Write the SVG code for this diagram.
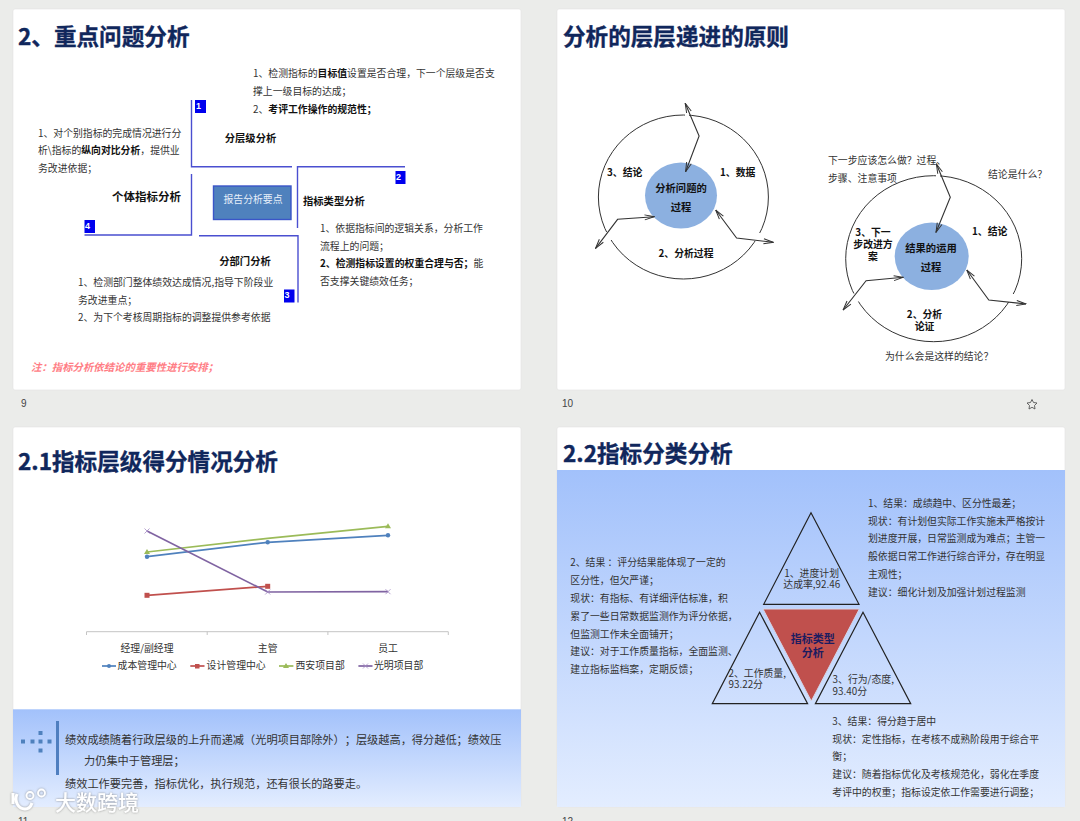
<svg xmlns="http://www.w3.org/2000/svg" width="1080" height="821" viewBox="0 0 1080 821">
<style>
text{font-family:"Noto Sans CJK SC","Liberation Sans",sans-serif;dominant-baseline:central;fill:#333;font-size:9.85px;text-spacing-trim:space-all;transform:translateY(-.6px)}
.title{font-size:22.6px;font-weight:700;fill:#10275c;stroke:#10275c;stroke-width:.35}
.b{font-weight:700;fill:#111}
.h{font-weight:700;fill:#111;font-size:10.3px}
.m{text-anchor:middle}
.w{font-size:11.2px}
.ln{fill:none;stroke:#4a4fd0;stroke-width:1.4}
.sq{fill:#0000ee}
.n{fill:#fff;font-size:9px;font-weight:700;font-family:"Liberation Sans",sans-serif}
.slide{fill:#fff;stroke:#e2e2e2;stroke-width:.6}
.ring{fill:none;stroke:#333;stroke-width:1}
.gap{fill:none;stroke:#fff;stroke-width:8}
.ar{fill:none;stroke:#333;stroke-width:1.1;marker-start:url(#v);marker-end:url(#v)}
.core{fill:#8cb0e0}
.tri{fill:none;stroke:#222;stroke-width:1.2}
.pg{font-size:10px;font-family:"Liberation Sans",sans-serif;fill:#444}
.dot{fill:#4f81bd}
.s1{fill:none;stroke:#4f81bd;stroke-width:1.7}
.s2{fill:none;stroke:#c0504d;stroke-width:1.7}
.s3{fill:none;stroke:#9bbb59;stroke-width:1.7}
.s4{fill:none;stroke:#8064a2;stroke-width:1.7}
</style>
<defs>
<linearGradient id="g" x1="0" y1="0" x2="0" y2="1"><stop offset="0" stop-color="#a2c1fb"/><stop offset="1" stop-color="#e3edff"/></linearGradient>
<marker id="v" viewBox="0 0 12 8" refX="11.500" refY="4" markerWidth="12" markerHeight="8" orient="auto-start-reverse" markerUnits="userSpaceOnUse"><path d="M2 1.500L11.500 4L2 6.500" fill="none" stroke="#333" stroke-width="1"/></marker>
<filter id="sh" x="-10%" y="-20%" width="120%" height="140%"><feDropShadow dx="0" dy="0" stdDeviation="1" flood-color="#777" flood-opacity=".8"/></filter>
</defs>
<rect width="1080" height="821" fill="#ebecea"/>

<rect class="slide" x="13" y="9" width="508" height="381" rx="2"/>
<rect class="slide" x="557" y="9" width="508" height="381" rx="2"/>
<rect class="slide" x="13" y="427" width="508" height="380" rx="2"/>
<rect class="slide" x="557" y="427" width="508" height="380" rx="2"/>

<g id="slide9">
<text class="title" x="18" y="36">2、重点问题分析</text>
<g id="connectors9">
<path class="ln" d="M191.500 100V166.700H292"/>
<path class="ln" d="M297.500 228V166.700H405"/>
<path class="ln" d="M199 235.700H298V302.500"/>
<path class="ln" d="M191.500 174V235H84.500"/>
</g>
<g id="center"><rect x="213.500" y="186" width="77.500" height="33.500" fill="#4f81bd" stroke="#3a55c8" stroke-width="1.400"/><text class="m" x="253" y="199.500" style="fill:#e8f0fa">报告分析要点</text></g>
<g id="n1"><rect class="sq" x="195" y="100" width="11" height="13"/><text class="n" x="196" y="106.500">1</text>
<text class="h m" x="250.500" y="138">分层级分析</text>
<text x="253" y="73.300">1、检测指标的<tspan class="b">目标值</tspan>设置是否合理，下一个层级是否支</text>
<text x="253" y="92">撑上一级目标的达成；</text>
<text x="253" y="109.500">2、<tspan class="b">考评工作操作的规范性；</tspan></text></g>
<g id="n2"><rect class="sq" x="395.500" y="171" width="10" height="13"/><text class="n" x="396" y="177.500">2</text>
<text class="h" x="303" y="201">指标类型分析</text>
<text x="320" y="229">1、依据指标间的逻辑关系，分析工作</text>
<text x="320" y="246.500">流程上的问题；</text>
<text x="320" y="264"><tspan class="b">2、检测指标设置的权重合理与否；</tspan>能</text>
<text x="320" y="281.500">否支撑关键绩效任务；</text></g>
<g id="n3"><rect class="sq" x="284" y="289.500" width="10.500" height="13"/><text class="n" x="284.500" y="296">3</text>
<text class="h m" x="245" y="261">分部门分析</text>
<text x="78" y="282.500">1、检测部门整体绩效达成情况,指导下阶段业</text>
<text x="78" y="300.500">务改进重点；</text>
<text x="78" y="318">2、为下个考核周期指标的调整提供参考依据</text></g>
<g id="n4"><rect class="sq" x="84.500" y="220" width="10.500" height="13"/><text class="n" x="85" y="226.500">4</text>
<text class="b" style="font-size:11.500px" x="112" y="197">个体指标分析</text>
<text x="38" y="133.500">1、对个别指标的完成情况进行分</text>
<text x="38" y="151">析\指标的<tspan class="b">纵向对比分析</tspan>，提供业</text>
<text x="38" y="169">务改进依据；</text></g>
<text x="31" y="367" style="fill:#ff7d85;font-weight:700;font-style:italic;font-size:10.400px">注：指标分析依结论的重要性进行安排；</text>
<text class="pg" x="21" y="404">9</text>
</g>

<g id="slide10">
<text class="title" x="563" y="36">分析的层层递进的原则</text>
<g id="cycle1">
<ellipse class="ring" cx="683.400" cy="197" rx="85" ry="82"/>
<ellipse class="core" cx="681" cy="195.500" rx="36" ry="33"/>
<g id="connectors10a">
<path class="gap" d="M752 237H764M603 236H615"/>
<path class="gap" style="stroke-width:4" d="M687 112V119"/>
<path class="ar" d="M685.200 103.300L699.100 136L685.600 171.700"/>
<path class="ar" d="M773.100 242.300L736.600 238L715.700 210"/>
<path class="ar" d="M595.600 248.300L617.600 219.300L654.100 216.700"/>
</g>
<text class="h m" x="681" y="188">分析问题的</text><text class="h m" x="681" y="207">过程</text>
<text class="b" x="607" y="173">3、结论</text><text class="b" x="720" y="173">1、数据</text><text class="b m" x="686" y="254">2、分析过程</text>
</g>
<g id="cycle2">
<ellipse class="ring" cx="933.700" cy="258.700" rx="88" ry="83"/>
<ellipse class="core" cx="931.700" cy="256.300" rx="37" ry="33.700"/>
<g id="connectors10b">
<path class="gap" d="M1004 298H1017M850 297.500H862"/>
<path class="gap" style="stroke-width:4" d="M938 173V180"/>
<path class="ar" d="M936.400 164L950.300 197.300L936 232.300"/>
<path class="ar" d="M1026 304L988.800 300L966.800 270"/>
<path class="ar" d="M843.100 310L866.100 280.700L903.300 277.300"/>
</g>
<text class="h m" x="931" y="248">结果的运用</text><text class="h m" x="931" y="267">过程</text>
<text class="b" x="972" y="232">1、结论</text>
<text class="b m" x="873" y="233">3、下一</text><text class="b m" x="873" y="245">步改进方</text><text class="b m" x="873" y="257">案</text>
<text class="b m" x="924.500" y="315">2、分析</text><text class="b m" x="924.500" y="327">论证</text>
<text x="828" y="161">下一步应该怎么做？过程、</text><text x="828" y="179">步骤、注意事项</text>
<text x="988" y="175">结论是什么？</text><text x="885" y="357">为什么会是这样的结论？</text>
</g>
<text class="pg" x="562" y="404">10</text>
<path d="M1032 399.500L1033.500 402.500L1037 403L1034.500 405.500L1035 409L1032 407.300L1029 409L1029.500 405.500L1027 403L1030.500 402.500Z" fill="none" stroke="#555" stroke-width=".9"/>
</g>

<g id="slide11">
<text class="title" x="18" y="461">2.1指标层级得分情况分析</text>
<g id="chart">
<path d="M86.500 635V631.700H448.300V635M207.200 631.700V635M327.900 631.700V635" fill="none" stroke="#c4c4c4" stroke-width="1"/>
<path class="s3" d="M147 552L267.700 538.300L388 526.300"/>
<path class="s1" d="M147 556.700L267.700 542.300L388 535.300"/>
<path class="s2" d="M147 595.300L267.700 586.300"/>
<path class="s4" d="M147 531L267.700 592L388 591.700"/>
<g fill="#4f81bd"><circle cx="147" cy="556.700" r="2.200"/><circle cx="267.700" cy="542.300" r="2.200"/><circle cx="388" cy="535.300" r="2.200"/></g>
<g fill="#c0504d"><rect x="144.500" y="592.800" width="5" height="5"/><rect x="265.200" y="583.800" width="5" height="5"/></g>
<g fill="#9bbb59"><path d="M147 549L150 554H144Z"/><path d="M388 523.300L391 528.300H385Z"/></g>
<g fill="none" stroke="#a48cc4" stroke-width=".8"><path d="M144.500 528.500L149.500 533.500M149.500 528.500L144.500 533.500M265.200 589.500L270.200 594.500M270.200 589.500L265.200 594.500M385.500 589.200L390.500 594.200M390.500 589.200L385.500 594.200"/></g>
<text class="m" x="147" y="648.300">经理/副经理</text><text class="m" x="267.700" y="648.300">主管</text><text class="m" x="388" y="648.300">员工</text>
<path class="s1" d="M102 666H116"/><circle class="dot" cx="109" cy="666" r="2"/><text x="117.600" y="666">成本管理中心</text>
<path class="s2" d="M190.300 666H204.500"/><rect x="195" y="664" width="4.500" height="4.500" fill="#c0504d"/><text x="206.600" y="666">设计管理中心</text>
<path class="s3" d="M279 666H293.400"/><path d="M286 663L289 668H283Z" fill="#9bbb59"/><text x="295.500" y="666">西安项目部</text>
<path class="s4" d="M358.400 666H372.500"/><path d="M363 663.500L368 668.500M368 663.500L363 668.500" stroke="#a48cc4" stroke-width=".8"/><text x="374" y="666">光明项目部</text>
</g>
<rect x="13" y="709.300" width="508" height="97.700" fill="url(#g)"/>
<rect x="56" y="721" width="3" height="54" fill="#4f7fc0"/>
<g class="dot"><rect x="21" y="739.500" width="4" height="4"/><rect x="30.500" y="739.500" width="4" height="4"/><rect x="38.500" y="739.500" width="4" height="4"/><rect x="47.500" y="739.500" width="4" height="4"/><rect x="38.500" y="731" width="4" height="4"/><rect x="38.500" y="748.500" width="4" height="4"/></g>
<text class="w" x="65" y="740">绩效成绩随着行政层级的上升而递减（光明项目部除外）；层级越高，得分越低；绩效压</text>
<text class="w" x="84" y="761">力仍集中于管理层；</text>
<text class="w" x="65" y="784">绩效工作要完善，指标优化，执行规范，还有很长的路要走。</text>
<text class="pg" x="18" y="822">11</text>
</g>

<g id="slide12">
<rect x="557" y="470" width="508" height="337" fill="url(#g)"/>
<text class="title" x="563" y="453">2.2指标分类分析</text>
<g id="n-top"><path class="tri" d="M811 512.700L763.700 604.300H859Z"/><text x="784.300" y="573.700">1、进度计划</text><text x="783.300" y="584.700">达成率,92.46</text></g>
<g id="n-center"><path d="M763 609H859.300L811.300 701Z" fill="#c0504d" stroke="#d5d5e5" stroke-width="1"/><text class="m" x="812.700" y="638.700" style="font-size:11px;font-weight:700;fill:#1c1c60">指标类型</text><text class="m" x="812.700" y="652.300" style="font-size:11px;font-weight:700;fill:#1c1c60">分析</text></g>
<g id="n-left"><path class="tri" d="M759.600 612.300L712.300 703.700H807.600Z"/><text x="728.500" y="673.300">2、工作质量,</text><text x="728.500" y="685">93.22分</text></g>
<g id="n-right"><path class="tri" d="M863 612.300L815.400 703.700H910.700Z"/><text x="832.600" y="679.300">3、行为/态度,</text><text x="832.600" y="691.300">93.40分</text></g>
<g id="t-right">
<text x="868" y="504">1、结果：成绩趋中、区分性最差；</text>
<text x="868" y="521.300">现状：有计划但实际工作实施未严格按计</text>
<text x="868" y="539">划进度开展，日常监测成为难点；主管一</text>
<text x="868" y="557">般依据日常工作进行综合评分，存在明显</text>
<text x="868" y="574.700">主观性；</text>
<text x="868" y="592.300">建议：细化计划及加强计划过程监测</text></g>
<g id="t-left">
<text x="570.300" y="562.700">2、结果 ：评分结果能体现了一定的</text>
<text x="570.300" y="581">区分性，但欠严谨；</text>
<text x="570.300" y="598.700">现状：有指标、有详细评估标准，积</text>
<text x="570.300" y="616.300">累了一些日常数据监测作为评分依据，</text>
<text x="570.300" y="634.300">但监测工作未全面铺开；</text>
<text x="570.300" y="651.700">建议：对于工作质量指标，全面监测、</text>
<text x="570.300" y="669.300">建立指标监档案，定期反馈；</text></g>
<g id="t-bottom">
<text x="832.300" y="721.700">3、结果：得分趋于居中</text>
<text x="832.300" y="739.300">现状：定性指标，在考核不成熟阶段用于综合平</text>
<text x="832.300" y="756.700">衡；</text>
<text x="832.300" y="775">建议：随着指标优化及考核规范化，弱化在季度</text>
<text x="832.300" y="792.700">考评中的权重；指标设定依工作需要进行调整；</text></g>
<text class="pg" x="562" y="822">12</text>
</g>

<g id="watermark" filter="url(#sh)">
<path d="M13 793V804M17 794C14 801 18 809 25 809C29 809 31 806 32 803" fill="none" stroke="#fff" stroke-width="3"/>
<circle cx="30" cy="795.500" r="3.500" fill="none" stroke="#fff" stroke-width="1.800"/><circle cx="41.500" cy="793" r="3.500" fill="none" stroke="#fff" stroke-width="1.800"/>
<text x="55" y="802" style="font-size:21px;font-weight:500;fill:#fff">大数跨境</text>
</g>
</svg>
